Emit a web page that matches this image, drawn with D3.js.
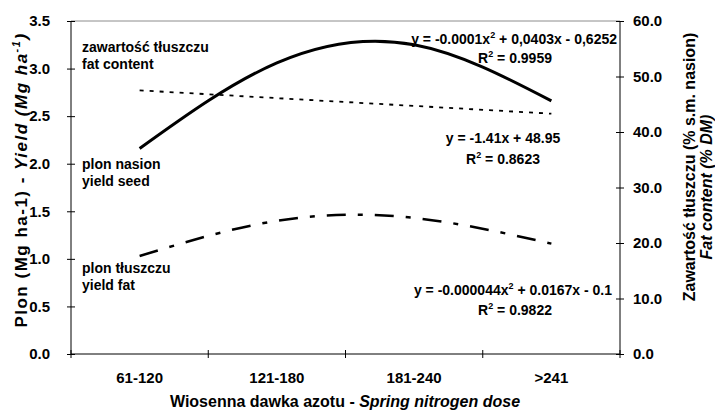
<!DOCTYPE html>
<html>
<head>
<meta charset="utf-8">
<script src="https://cdn.jsdelivr.net/npm/d3@7"></script>
<style>
  body { margin: 0; background: #fff; }
  text { font-family: Arial, "Liberation Sans", sans-serif; font-weight: bold; fill: #000; }
</style>
</head>
<body>
<script>
// categories on the x axis
var categories = ["61-120", "121-180", "181-240", ">241"];

// series
var yieldSeed = [2.16, 3.06, 3.25, 2.66];   // left axis, Mg/ha
var yieldFat = [1.03, 1.40, 1.43, 1.16];    // left axis, Mg/ha
var fatContent = [47.5, 46.1, 44.7, 43.3];  // right axis, %

// tick labels
var leftTicks = [0, 0.5, 1.0, 1.5, 2.0, 2.5, 3.0, 3.5];
var rightTicks = [0, 10, 20, 30, 40, 50, 60];

var svgWidth = 715;
var svgHeight = 412;

var margin = { top: 21, right: 95, bottom: 58, left: 71 };
var chartWidth = svgWidth - margin.left - margin.right;
var chartHeight = svgHeight - margin.top - margin.bottom;

var svg = d3.select("body")
  .append("svg")
  .attr("width", svgWidth)
  .attr("height", svgHeight);

var chartGroup = svg.append("g")
  .attr("transform", `translate(${margin.left}, ${margin.top})`);

var xBand = d3.scaleBand()
  .domain(categories)
  .range([0, chartWidth]);

var xCenter = c => xBand(c) + xBand.bandwidth() / 2;

var yLeft = d3.scaleLinear().domain([0, 3.5]).range([chartHeight, 0]);
var yRight = d3.scaleLinear().domain([0, 60]).range([chartHeight, 0]);

// top border of the plot area (grey)
chartGroup.append("line")
  .attr("x1", 0).attr("x2", chartWidth)
  .attr("y1", 0).attr("y2", 0)
  .attr("stroke", "#8c8c8c")
  .attr("stroke-width", 1);

// left axis
var leftAxis = d3.axisLeft(yLeft)
  .tickValues(leftTicks)
  .tickFormat(d3.format(".1f"))
  .tickSize(4)
  .tickPadding(17);

var gLeft = chartGroup.append("g").call(leftAxis);
gLeft.select(".domain").remove();
gLeft.append("line").attr("x1", 0).attr("x2", 0).attr("y1", 0).attr("y2", chartHeight)
  .attr("stroke", "#000");
gLeft.selectAll(".tick line").attr("x1", 4).attr("x2", -4);
gLeft.selectAll(".tick text").style("font-size", "15px").attr("font-family", null);

// right axis
var rightAxis = d3.axisRight(yRight)
  .tickValues(rightTicks)
  .tickFormat(d3.format(".1f"))
  .tickSize(4)
  .tickPadding(9);

var gRight = chartGroup.append("g")
  .attr("transform", `translate(${chartWidth}, 0)`)
  .call(rightAxis);
gRight.select(".domain").remove();
gRight.append("line").attr("x1", 0).attr("x2", 0).attr("y1", 0).attr("y2", chartHeight)
  .attr("stroke", "#000");
gRight.selectAll(".tick line").attr("x1", -4).attr("x2", 4);
gRight.selectAll(".tick text").style("font-size", "15px").attr("font-family", null);

// bottom axis: ticks on band edges, labels in band centres
var gBottom = chartGroup.append("g")
  .attr("transform", `translate(0, ${chartHeight})`);
gBottom.append("line").attr("x1", 0).attr("x2", chartWidth)
  .attr("stroke", "#000");
var edges = categories.map(c => xBand(c)).concat([chartWidth]);
gBottom.selectAll(".edge").data(edges).enter().append("line")
  .attr("x1", d => d).attr("x2", d => d)
  .attr("y1", -4).attr("y2", 4)
  .attr("stroke", "#000");
gBottom.selectAll(".cat").data(categories).enter().append("text")
  .attr("x", d => xCenter(d))
  .attr("y", 29)
  .attr("text-anchor", "middle")
  .style("font-size", "15px")
  .text(d => d);

// lines
var lineLeft = d3.line()
  .x((d, i) => xCenter(categories[i]))
  .y(d => yLeft(d))
  .curve(d3.curveNatural);

var lineRight = d3.line()
  .x((d, i) => xCenter(categories[i]))
  .y(d => yRight(d));

chartGroup.append("path")
  .attr("d", lineLeft(yieldSeed))
  .attr("fill", "none")
  .attr("stroke", "#000")
  .attr("stroke-width", 3);

chartGroup.append("path")
  .attr("d", lineLeft(yieldFat))
  .attr("fill", "none")
  .attr("stroke", "#000")
  .attr("stroke-width", 2.5)
  .attr("stroke-dasharray", "19,12,5,12");

chartGroup.append("path")
  .attr("d", lineRight(fatContent))
  .attr("fill", "none")
  .attr("stroke", "#000")
  .attr("stroke-width", 1.8)
  .attr("stroke-dasharray", "4,6");

// series labels
function twoLines(x, y, a, b) {
  svg.append("text").attr("x", x).attr("y", y).style("font-size", "14px").text(a);
  svg.append("text").attr("x", x).attr("y", y + 17).style("font-size", "14px").text(b);
}
twoLines(82, 52, "zawartość tłuszczu", "fat content");
twoLines(82, 169, "plon nasion", "yield seed");
twoLines(82, 273, "plon tłuszczu", "yield fat");

// trend equations; parts = [before, superscript, after]
function equation(x, y, anchor, parts) {
  var t = svg.append("text").attr("x", x).attr("y", y)
    .attr("text-anchor", anchor).style("font-size", "14px");
  t.append("tspan").text(parts[0]);
  if (parts.length > 1) {
    t.append("tspan").attr("dy", -6).style("font-size", "9px").text(parts[1]);
    t.append("tspan").attr("dy", 6).text(parts[2]);
  }
}
equation(617, 44, "end", ["y = -0.0001x", "2", " + 0,0403x - 0,6252"]);
equation(515, 63, "middle", ["R", "2", " = 0.9959"]);
equation(503, 143, "middle", ["y = -1.41x + 48.95"]);
equation(503, 164, "middle", ["R", "2", " = 0.8623"]);
equation(612, 295, "end", ["y = -0.000044x", "2", " + 0.0167x - 0.1"]);
equation(515, 315, "middle", ["R", "2", " = 0.9822"]);

// axis titles
var xTitle = svg.append("text")
  .attr("x", 345).attr("y", 407)
  .attr("text-anchor", "middle")
  .style("font-size", "16px");
xTitle.append("tspan").text("Wiosenna dawka azotu -  ");
xTitle.append("tspan").style("font-style", "italic").text("Spring nitrogen dose");

var yTitle = svg.append("text")
  .attr("transform", "translate(27, 180) rotate(-90)")
  .attr("text-anchor", "middle")
  .style("font-size", "17px")
  .style("letter-spacing", "1.5px");
yTitle.append("tspan").text("Plon (Mg  ha-1) - ");
yTitle.append("tspan").style("font-style", "italic").text("Yield (Mg  ha");
yTitle.append("tspan").style("font-style", "italic").style("font-size", "11px").attr("dy", -7).text("-1");
yTitle.append("tspan").style("font-style", "italic").attr("dy", 7).text(")");

svg.append("text")
  .attr("transform", "translate(695, 167) rotate(-90)")
  .attr("text-anchor", "middle")
  .style("font-size", "16px")
  .text("Zawartość tłuszczu (% s.m. nasion)");

svg.append("text")
  .attr("transform", "translate(712, 187) rotate(-90)")
  .attr("text-anchor", "middle")
  .style("font-size", "16px")
  .style("font-style", "italic")
  .text("Fat content (% DM)");
</script>
</body>
</html>
